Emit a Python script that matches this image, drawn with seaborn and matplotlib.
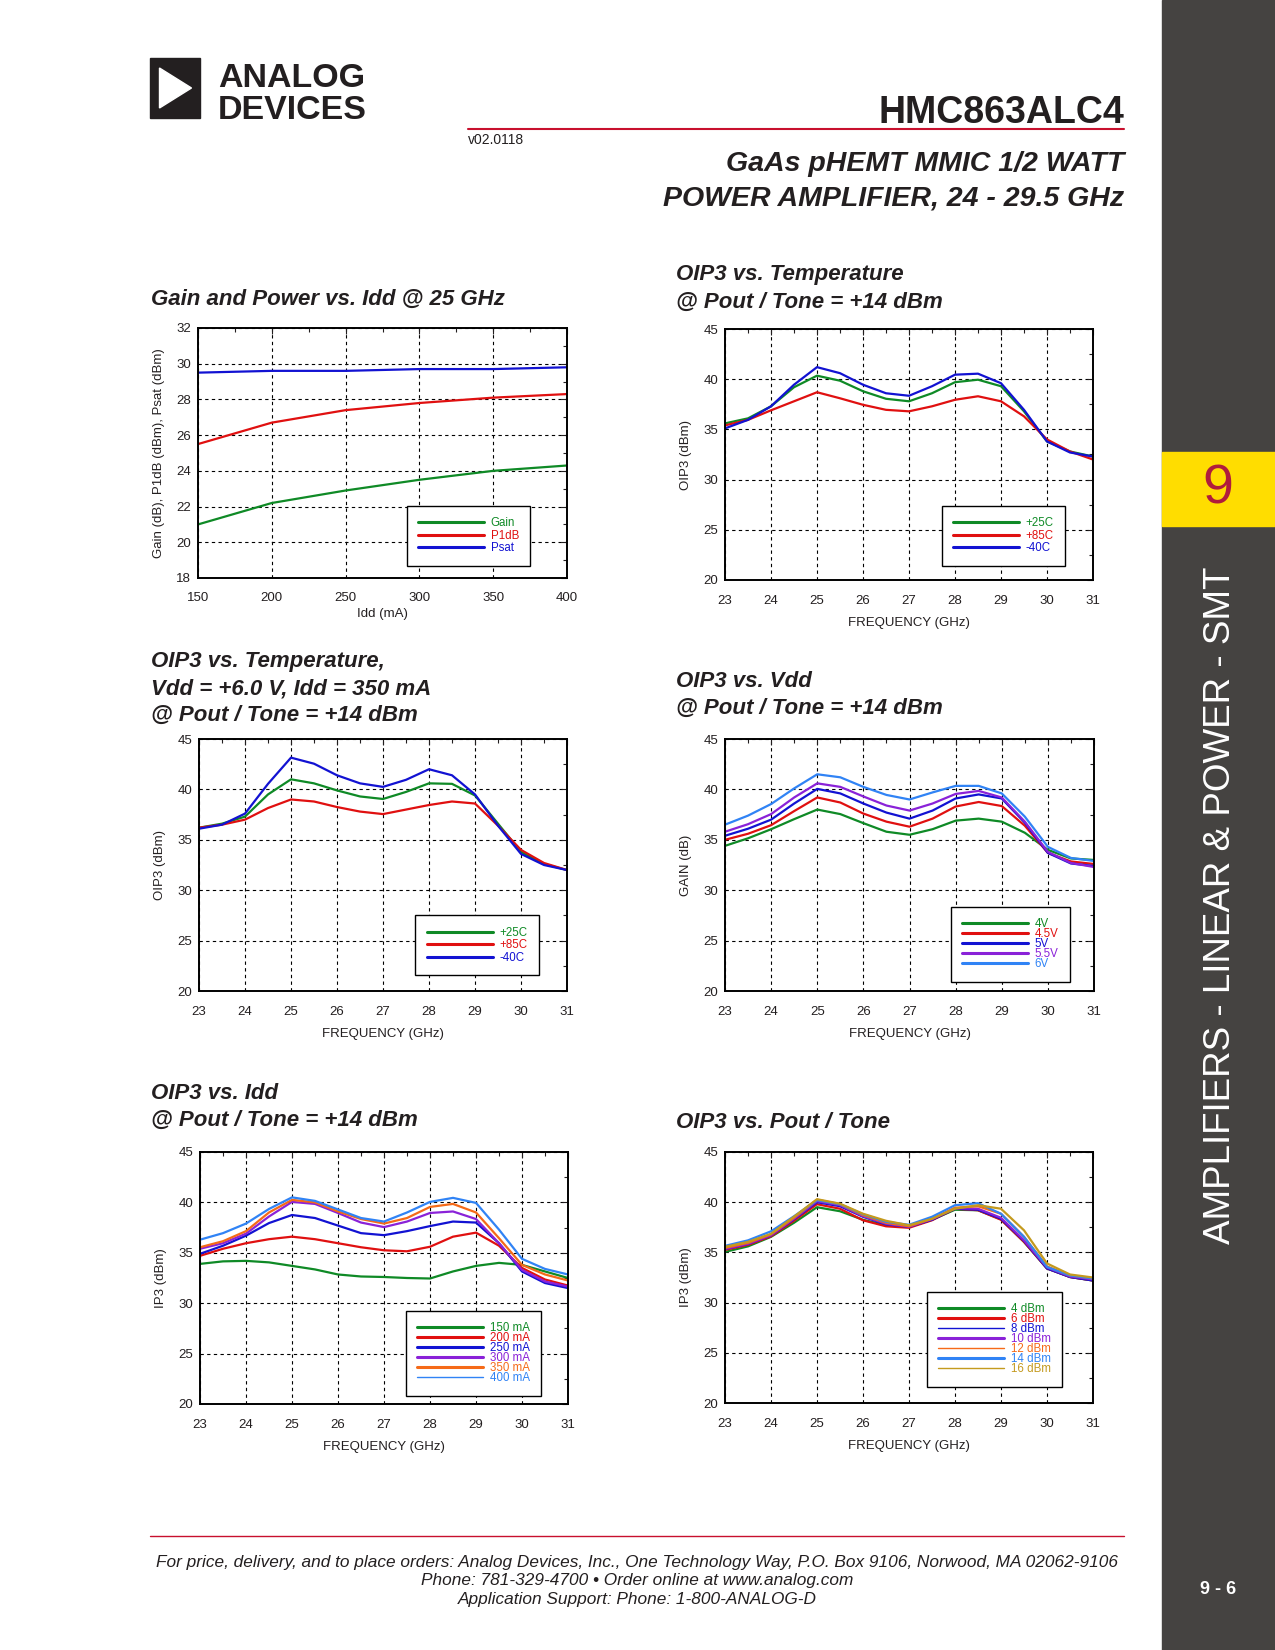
import matplotlib
matplotlib.use("Agg")
import matplotlib.pyplot as plt
import seaborn as sns
from matplotlib.patches import Rectangle, Polygon
from matplotlib.ticker import MultipleLocator

sns.set_theme(style="white")
plt.rcParams['font.family'] = ['Liberation Sans', 'DejaVu Sans']
NARROW = ['Liberation Sans Narrow', 'Liberation Sans', 'DejaVu Sans']
INK = '#231f20'

W, H = 1275, 1650

# ---------------- data ----------------
freq = [23.0, 23.5, 24.0, 24.5, 25.0, 25.5, 26.0, 26.5, 27.0, 27.5, 28.0, 28.5, 29.0, 29.5, 30.0, 30.5, 31.0]

# Gain and Power vs. Idd @ 25 GHz
idd = [150, 200, 250, 300, 350, 400]
gain_idd = [21.0, 22.2, 22.9, 23.5, 24.0, 24.3]
p1db_idd = [25.5, 26.7, 27.4, 27.8, 28.1, 28.3]
psat_idd = [29.5, 29.6, 29.6, 29.7, 29.7, 29.8]

# OIP3 vs. Temperature @ Pout/Tone = +14 dBm
temp_labels = ['+25C', '+85C', '-40C']
oip3_t_25 = [35.6, 36.1, 37.3, 39.2, 40.35, 39.85, 38.8, 38.05, 37.8, 38.6, 39.7, 39.95, 39.3, 36.8, 33.8, 32.8, 32.3]
oip3_t_85 = [35.4, 35.95, 36.9, 37.8, 38.7, 38.1, 37.45, 36.95, 36.8, 37.3, 37.95, 38.3, 37.8, 36.3, 34.0, 32.8, 32.0]
oip3_t_m40 = [35.1, 35.95, 37.3, 39.45, 41.2, 40.6, 39.45, 38.6, 38.35, 39.3, 40.45, 40.55, 39.6, 36.95, 33.8, 32.7, 32.3]

# OIP3 vs. Temperature, Vdd = +6.0 V, Idd = 350 mA
oip3_v6_25 = [36.2, 36.6, 37.3, 39.5, 41.0, 40.6, 39.9, 39.3, 39.05, 39.75, 40.6, 40.55, 39.4, 36.6, 33.8, 32.6, 32.0]
oip3_v6_85 = [36.2, 36.5, 37.0, 38.15, 39.0, 38.8, 38.25, 37.8, 37.55, 38.0, 38.45, 38.8, 38.6, 36.4, 34.0, 32.7, 32.0]
oip3_v6_m40 = [36.1, 36.5, 37.6, 40.55, 43.15, 42.55, 41.4, 40.6, 40.25, 40.95, 42.0, 41.4, 39.5, 36.4, 33.6, 32.5, 32.0]

# OIP3 vs. Vdd
vdd_labels = ['4V', '4.5V', '5V', '5.5V', '6V']
oip3_vdd = [
    [34.4, 35.15, 36.05, 37.05, 38.0, 37.55, 36.65, 35.8, 35.5, 36.05, 36.9, 37.1, 36.8, 35.7, 34.0, 33.15, 33.0],
    [35.0, 35.6, 36.45, 37.85, 39.2, 38.7, 37.6, 36.8, 36.3, 37.1, 38.3, 38.75, 38.35, 36.4, 33.7, 32.85, 32.6],
    [35.4, 36.1, 37.0, 38.6, 40.05, 39.6, 38.6, 37.7, 37.1, 37.9, 39.1, 39.5, 39.1, 36.7, 33.7, 32.65, 32.4],
    [35.8, 36.55, 37.55, 39.2, 40.6, 40.25, 39.3, 38.4, 37.9, 38.6, 39.55, 39.85, 39.2, 36.8, 33.8, 32.7, 32.3],
    [36.5, 37.4, 38.55, 40.1, 41.5, 41.2, 40.25, 39.45, 39.0, 39.7, 40.35, 40.35, 39.6, 37.3, 34.3, 33.2, 32.9],
]

# OIP3 vs. Idd
idd_labels = ['150 mA', '200 mA', '250 mA', '300 mA', '350 mA', '400 mA']
oip3_idd = [
    [33.9, 34.15, 34.2, 34.05, 33.7, 33.35, 32.85, 32.65, 32.6, 32.5, 32.45, 33.15, 33.7, 34.0, 33.8, 33.15, 32.5],
    [34.7, 35.4, 35.95, 36.35, 36.6, 36.35, 35.95, 35.55, 35.25, 35.15, 35.6, 36.6, 37.0, 35.7, 33.5, 32.35, 31.75],
    [34.9, 35.7, 36.7, 37.95, 38.75, 38.45, 37.7, 36.95, 36.75, 37.15, 37.65, 38.1, 38.0, 35.95, 33.15, 32.0, 31.5],
    [35.4, 35.95, 36.9, 38.6, 40.05, 39.85, 38.95, 38.0, 37.55, 38.1, 38.95, 39.1, 38.35, 35.95, 33.3, 32.15, 31.65],
    [35.55, 36.15, 37.15, 39.0, 40.25, 40.0, 39.1, 38.35, 37.9, 38.45, 39.55, 39.85, 39.0, 36.45, 33.8, 32.85, 32.25],
    [36.3, 36.95, 37.9, 39.35, 40.5, 40.15, 39.3, 38.45, 38.1, 39.0, 40.05, 40.45, 39.95, 37.3, 34.4, 33.4, 32.85],
]

# OIP3 vs. Pout / Tone
pout_labels = ['4 dBm', '6 dBm', '8 dBm', '10 dBm', '12 dBm', '14 dBm', '16 dBm']
oip3_pout = [
    [35.05, 35.6, 36.55, 37.95, 39.5, 39.1, 38.25, 37.7, 37.55, 38.25, 39.25, 39.2, 38.3, 36.05, 33.4, 32.55, 32.2],
    [35.25, 35.75, 36.6, 38.15, 39.8, 39.35, 38.2, 37.6, 37.45, 38.2, 39.35, 39.2, 38.25, 36.05, 33.4, 32.55, 32.2],
    [35.35, 35.85, 36.7, 38.3, 40.0, 39.6, 38.55, 37.8, 37.55, 38.25, 39.35, 39.25, 38.35, 36.15, 33.4, 32.55, 32.2],
    [35.35, 35.85, 36.7, 38.35, 40.1, 39.7, 38.6, 37.85, 37.55, 38.3, 39.4, 39.35, 38.45, 36.2, 33.5, 32.6, 32.3],
    [35.45, 35.95, 36.8, 38.45, 40.25, 39.8, 38.7, 37.95, 37.6, 38.35, 39.45, 39.6, 38.85, 36.55, 33.6, 32.7, 32.4],
    [35.65, 36.2, 37.1, 38.6, 40.2, 39.8, 38.8, 38.05, 37.75, 38.55, 39.7, 39.9, 38.85, 36.55, 33.55, 32.7, 32.4],
    [35.55, 36.05, 36.85, 38.55, 40.3, 39.85, 38.85, 38.15, 37.7, 38.35, 39.35, 39.7, 39.35, 37.2, 33.9, 32.8, 32.5],
]

GREEN, RED, BLUE = '#0f8a26', '#e01010', '#1212d2'
PURPLE, ORANGE, LBLUE, GOLD = '#8a22d8', '#f56a18', '#3083f5', '#c49a1e'


def px_rect(l, t, r, b):
    return [l / W, 1 - b / H, (r - l) / W, (b - t) / H]


fig = plt.figure(figsize=(12.75, 16.5), dpi=100)

# page layer in pixel coordinates
bg = fig.add_axes([0, 0, 1, 1])
bg.set_xlim(0, W)
bg.set_ylim(H, 0)
bg.axis('off')


def draw_chart(rect, xs, series, labels, colors, xlim, xmajor, xminor, ylim, ymajor, yminor,
               xlabel, ylabel, leg_at, leg_size, leg_space, thin=(), xpad=11, xlabelpad=7):
    ax = fig.add_axes(px_rect(*rect))
    for ys, lab, col in zip(series, labels, colors):
        sns.lineplot(x=xs, y=ys, color=col, label=lab, lw=1.6, ax=ax)
    ax.set_xlim(*xlim)
    ax.set_ylim(*ylim)
    ax.xaxis.set_major_locator(MultipleLocator(xmajor))
    ax.xaxis.set_minor_locator(MultipleLocator(xminor))
    ax.yaxis.set_major_locator(MultipleLocator(ymajor))
    ax.yaxis.set_minor_locator(MultipleLocator(yminor))
    ax.tick_params(which='both', direction='in', top=True, right=True, width=0.8,
                   colors=INK, labelsize=9.5)
    ax.tick_params(which='major', length=4)
    ax.tick_params(which='minor', length=3)
    ax.tick_params(axis='x', pad=xpad)
    ax.tick_params(axis='y', pad=5)
    ax.grid(True, which='major', color='black', linestyle=(0, (3, 3)), linewidth=0.8)
    for s in ax.spines.values():
        s.set_color('black')
        s.set_linewidth(1.4)
    ax.set_xlabel(xlabel, fontsize=9.5, color=INK, labelpad=xlabelpad)
    ax.set_ylabel(ylabel, fontsize=9.5, color=INK, labelpad=8)
    leg = ax.legend(loc='upper left', bbox_to_anchor=leg_at, bbox_transform=bg.transData,
                    borderaxespad=0, fontsize=leg_size, labelspacing=leg_space,
                    handlelength=66 / (leg_size * 100 / 72), handletextpad=0.55,
                    borderpad=1.0, labelcolor='linecolor', frameon=True, fancybox=False,
                    framealpha=1, edgecolor='black')
    leg.get_frame().set_linewidth(1.0)
    for i, h in enumerate(leg.legend_handles):
        h.set_linewidth(1.0 if i in thin else 2.2)
    return ax


def title(x, lines):
    for text, yc in lines:
        bg.text(x, yc + 8, text, fontsize=16, fontweight='bold', fontstyle='italic',
                color=INK, ha='left', va='baseline')


freq_kw = dict(xlim=(23, 31), xmajor=1, xminor=0.5, ylim=(20, 45), ymajor=5, yminor=2.5,
               xlabel='FREQUENCY (GHz)')

# Gain and Power vs. Idd
title(151, [('Gain and Power vs. Idd @ 25 GHz', 297)])
draw_chart((198, 328, 567, 578), idd, [gain_idd, p1db_idd, psat_idd], ['Gain', 'P1dB', 'Psat'],
           [GREEN, RED, BLUE], (150, 400), 50, 25, (18, 32), 2, 1,
           'Idd (mA)', 'Gain (dB), P1dB (dBm), Psat (dBm)', (406.7, 505.7), 8.3, 0.04,
           xpad=10, xlabelpad=3)

# OIP3 vs. Temperature
title(676, [('OIP3 vs. Temperature', 272), ('@ Pout / Tone = +14 dBm', 300)])
draw_chart((725, 329, 1093, 580), freq, [oip3_t_25, oip3_t_85, oip3_t_m40], temp_labels,
           [GREEN, RED, BLUE], ylabel='OIP3 (dBm)', leg_at=(941.7, 505.7), leg_size=8.3,
           leg_space=0.04, **freq_kw)

# OIP3 vs. Temperature, Vdd = +6.0 V
title(151, [('OIP3 vs. Temperature,', 659), ('Vdd = +6.0 V, Idd = 350 mA', 686),
            ('@ Pout / Tone = +14 dBm', 713)])
draw_chart((199, 739, 567, 991), freq, [oip3_v6_25, oip3_v6_85, oip3_v6_m40], temp_labels,
           [GREEN, RED, BLUE], ylabel='OIP3 (dBm)', leg_at=(415.3, 915.3), leg_size=8.3,
           leg_space=0.04, **freq_kw)

# OIP3 vs. Vdd
title(676, [('OIP3 vs. Vdd', 679), ('@ Pout / Tone = +14 dBm', 706)])
draw_chart((725, 739, 1094, 991), freq, oip3_vdd, vdd_labels,
           [GREEN, RED, BLUE, PURPLE, LBLUE], ylabel='GAIN (dB)', leg_at=(950.7, 906.7),
           leg_size=8.3, leg_space=-0.17, **freq_kw)

# OIP3 vs. Idd
title(151, [('OIP3 vs. Idd', 1091), ('@ Pout / Tone = +14 dBm', 1118)])
draw_chart((200, 1152, 568, 1404), freq, oip3_idd, idd_labels,
           [GREEN, RED, BLUE, PURPLE, ORANGE, LBLUE], ylabel='IP3 (dBm)',
           leg_at=(405.7, 1310.7), leg_size=8.3, leg_space=-0.17, thin=(5,), **freq_kw)

# OIP3 vs. Pout / Tone
title(676, [('OIP3 vs. Pout / Tone', 1120)])
draw_chart((725, 1152, 1093, 1403), freq, oip3_pout, pout_labels,
           [GREEN, RED, BLUE, PURPLE, ORANGE, LBLUE, GOLD], ylabel='IP3 (dBm)',
           leg_at=(926.7, 1291.7), leg_size=8.3, leg_space=-0.17, thin=(2, 4, 6), **freq_kw)

# ---------------- page header ----------------
bg.add_patch(Rectangle((150, 58), 50, 60, color=INK))
bg.add_patch(Polygon([(159.5, 68), (159.5, 108), (191.5, 88)], color='white'))
bg.text(218, 87, 'ANALOG', fontsize=24.5, fontweight='bold', family=NARROW, color=INK, va='baseline')
bg.text(218, 119, 'DEVICES', fontsize=24.5, fontweight='bold', family=NARROW, color=INK, va='baseline')
bg.text(1124, 123, 'HMC863ALC4', fontsize=27, fontweight='bold', family=NARROW, color=INK,
        ha='right', va='baseline')
bg.plot([468, 1124], [129, 129], color='#c8102e', lw=1.5)
bg.text(468, 144, 'v02.0118', fontsize=10, family=NARROW, color=INK, va='baseline')
bg.text(1124, 171, 'GaAs pHEMT MMIC 1/2 WATT', fontsize=20.5, fontweight='bold', fontstyle='italic',
        family=NARROW, color=INK, ha='right', va='baseline')
bg.text(1124, 206, 'POWER AMPLIFIER, 24 - 29.5 GHz', fontsize=20.5, fontweight='bold',
        fontstyle='italic', family=NARROW, color=INK, ha='right', va='baseline')

# ---------------- side bar ----------------
bg.add_patch(Rectangle((1162, 0), 113, 1650, color='#454341'))
bg.add_patch(Rectangle((1162, 452), 113, 74, color='#ffdd00'))
bg.text(1218, 489, '9', fontsize=40, color='#b01c3c', ha='center', va='center')
bg.text(1220, 905, 'AMPLIFIERS - LINEAR & POWER - SMT', fontsize=26.5, family=NARROW, color='white',
        rotation=90, ha='center', va='center')
bg.text(1218, 1590, '9 - 6', fontsize=13, fontweight='bold', color='white', ha='center', va='center')

# ---------------- footer ----------------
bg.plot([150, 1124], [1536, 1536], color='#c8102e', lw=1.0)
footer = ['For price, delivery, and to place orders: Analog Devices, Inc., One Technology Way, P.O. Box 9106, Norwood, MA 02062-9106',
          'Phone: 781-329-4700 \u2022 Order online at www.analog.com',
          'Application Support: Phone: 1-800-ANALOG-D']
for line, yb in zip(footer, [1567, 1585, 1604]):
    bg.text(637, yb, line, fontsize=12.4, fontstyle='italic', family=NARROW, color=INK,
            ha='center', va='baseline')

fig.savefig('out.png', dpi=100)
